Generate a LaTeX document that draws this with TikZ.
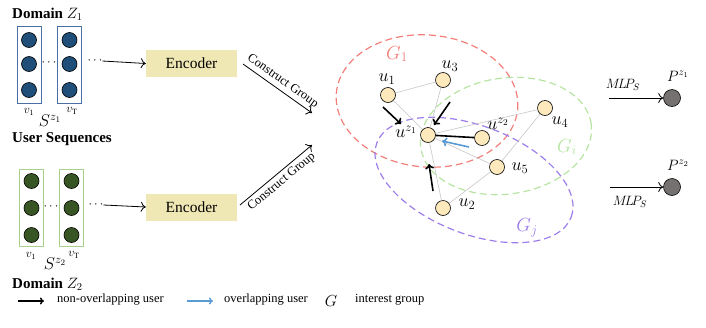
\RequirePackage{fix-cm}
\documentclass[tikz,border=0pt]{standalone}
\usepackage{fontspec}
\setmainfont{Liberation Serif}
\usetikzlibrary{arrows.meta}
\definecolor{enccol}{HTML}{EFE7B4}
\definecolor{bluedot}{HTML}{1F4E79}
\definecolor{bluebox}{HTML}{4A6FA5}
\definecolor{greendot}{HTML}{375623}
\definecolor{greenbox}{HTML}{A9D18E}
\definecolor{nodecol}{HTML}{FDE9BC}
\definecolor{redg}{HTML}{F27F7A}
\definecolor{greeng}{HTML}{B6E4A2}
\definecolor{purpleg}{HTML}{9C7DEB}
\definecolor{bluearr}{HTML}{5B9BD5}
\definecolor{pgray}{HTML}{767171}
\begin{document}
\begin{tikzpicture}[x=1pt,y=-1pt,
 seqbox/.style={draw=#1, line width=0.8pt, minimum width=24pt, minimum height=77pt, inner sep=0pt},
 seqdot/.style={circle, draw=black, line width=0.6pt, fill=#1, minimum size=15pt, inner sep=0pt},
 enc/.style={fill=enccol, minimum width=91pt, minimum height=27pt, inner sep=0pt, font=\fontsize{15.5}{18}\selectfont},
 arr/.style={-{To[length=5pt,width=10pt]}, line width=0.8pt},
 gnode/.style={circle, draw=black, line width=0.6pt, fill=nodecol, minimum size=15pt, inner sep=0pt},
 gedge/.style={draw=black!22, line width=0.6pt},
 thickarr/.style={-{To[length=5pt,width=9pt]}, line width=1.6pt},
 grp/.style={dash pattern=on 7pt off 4pt, line width=1.2pt},
 lbl/.style={font=\fontsize{12.5}{15}\selectfont, inner sep=0pt},
 mlbl/.style={font=\fontsize{18}{20}\selectfont, inner sep=0pt},
 glbl/.style={font=\fontsize{19}{21}\selectfont, inner sep=0pt},
 head/.style={font=\bfseries\fontsize{15}{18}\selectfont, inner sep=0pt, anchor=west},
 cg/.style={font=\fontsize{12.5}{14}\selectfont, inner sep=3pt}
]
\useasboundingbox (0,0) rectangle (706,327);

% ---------- domain Z1 ----------
\node[head] (d1) at (12,14) {Domain $Z_1$};
\node[seqbox=bluebox] (bb1) at (29,65) {};
\node[seqbox=bluebox] (bb2) at (69.5,65) {};
\foreach \y [count=\i] in {40,64,90}{
  \node[seqdot=bluedot] (ba\i) at (29,\y) {};
  \node[seqdot=bluedot] (bt\i) at (69.5,\y) {};
}
\node[lbl] (bdots1) at (49,63) {$\cdots$};
\node[lbl] (bdots2) at (95,61) {$\cdots$};
\node[enc] (enc1) at (191.5,63.5) {Encoder};
\draw[arr] (bdots2.east) -- (enc1.west);
\node[font=\fontsize{12}{13}\selectfont] (bv1) at (29,112) {$v_1$};
\node[font=\fontsize{17}{19}\selectfont] (bs) at (50,121) {$S^{z_1}$};
\node[font=\fontsize{12}{13}\selectfont] (bvt) at (72,111) {$v_{\mathrm{T}}$};

% ---------- user sequences ----------
\node[head] (us) at (12,139) {User Sequences};

% ---------- domain Z2 ----------
\node[seqbox=greenbox] (gb1) at (31.5,208) {};
\node[seqbox=greenbox] (gb2) at (71.5,208) {};
\foreach \y [count=\i] in {181,208,235}{
  \node[seqdot=greendot] (ga\i) at (31.5,\y) {};
  \node[seqdot=greendot] (gt\i) at (71.5,\y) {};
}
\node[lbl] (gdots1) at (51,207) {$\cdots$};
\node[lbl] (gdots2) at (96,205) {$\cdots$};
\node[enc] (enc2) at (191.5,207) {Encoder};
\draw[arr] (gdots2.east) -- (enc2.west);
\node[font=\fontsize{12}{13}\selectfont] (gv1) at (31,256) {$v_1$};
\node[font=\fontsize{17}{19}\selectfont] (gs) at (55,264) {$S^{z_2}$};
\node[font=\fontsize{12}{13}\selectfont] (gvt) at (74,255) {$v_{\mathrm{T}}$};
\node[head] (d2) at (12,284) {Domain $Z_2$};

% ---------- construct group ----------
\coordinate (c1s) at (243,64);
\coordinate (c1e) at (312,113);
\coordinate (c2s) at (240,205);
\coordinate (c2e) at (312,145);
\draw[arr] (c1s) -- node[cg, midway, above, sloped] {Construct Group} (c1e);
\draw[arr] (c2s) -- node[cg, midway, below, sloped] {Construct Group} (c2e);

% ---------- groups ----------
\draw[grp, draw=redg, rotate around={-5:(427,101)}] (427,101) ellipse [x radius=91pt, y radius=66pt];
\draw[grp, draw=greeng, rotate around={8:(506,136)}] (506,136) ellipse [x radius=86pt, y radius=58pt];
\draw[grp, draw=purpleg, rotate around={-21:(474,180)}] (474,180) ellipse [x radius=104pt, y radius=54pt];
\node[glbl, text=redg] (g1) at (397,54) {$G_1$};
\node[glbl, text=greeng] (gi) at (567,147) {$G_i$};
\node[glbl, text=purpleg] (gj) at (527,228) {$G_j$};

% ---------- graph nodes ----------
\node[gnode] (u1) at (388,95) {};
\node[gnode] (u3) at (443,80) {};
\node[gnode] (u4) at (545,108) {};
\node[gnode] (uz1) at (428,135) {};
\node[gnode] (uz2) at (482,138) {};
\node[gnode] (u5) at (497,167) {};
\node[gnode] (u2) at (443,208) {};

\draw[gedge] (u1) -- (u3);
\draw[gedge] (u1) -- (uz1);
\draw[gedge] (u3) -- (uz1);
\draw[gedge] (uz1) -- (u4);
\draw[gedge] (uz1) -- (u2);
\draw[gedge] (uz1) -- (u5);
\draw[gedge] (u2) -- (u5);
\draw[gedge] (u5) -- (u4);
\draw[line width=1.6pt] (uz2) -- (uz1);

\node[mlbl] (lu1) at (387,79) {$u_1$};
\node[mlbl] (lu3) at (450,66) {$u_3$};
\node[mlbl] (lu4) at (560,122) {$u_4$};
\node[mlbl] (luz1) at (406,132) {$u^{z_1}$};
\node[mlbl] (luz2) at (498,124) {$u^{z_2}$};
\node[mlbl] (lu5) at (520,168) {$u_5$};
\node[mlbl] (lu2) at (467,204) {$u_2$};

\coordinate (a1s) at (383,107); \coordinate (a1e) at (401,124);
\coordinate (a2s) at (450,102); \coordinate (a2e) at (434,125);
\coordinate (a3s) at (433,191); \coordinate (a3e) at (429,164);
\coordinate (a4s) at (469,147); \coordinate (a4e) at (442,141);
\draw[thickarr] (a1s) -- (a1e);
\draw[thickarr] (a2s) -- (a2e);
\draw[thickarr] (a3s) -- (a3e);
\draw[thickarr, draw=bluearr] (a4s) -- (a4e);

% ---------- outputs ----------
\node[circle, draw=black, line width=0.6pt, fill=pgray, minimum size=17pt, inner sep=0pt] (p1) at (672,98) {};
\node[circle, draw=black, line width=0.6pt, fill=pgray, minimum size=17pt, inner sep=0pt] (p2) at (672,187) {};
\coordinate (m1s) at (609,98);
\coordinate (m2s) at (610,187);
\draw[arr] (m1s) -- (p1);
\draw[arr] (m2s) -- (p2);
\node[font=\fontsize{13.5}{15}\selectfont, inner sep=0pt] (mlp1) at (623,85) {$M\!L\!P_S$};
\node[font=\fontsize{13.5}{15}\selectfont, inner sep=0pt] (mlp2) at (630,202) {$M\!L\!P_S$};
\node[font=\fontsize{15}{16}\selectfont, inner sep=0pt] (pl1) at (678,76) {$P^{z_1}$};
\node[font=\fontsize{15}{16}\selectfont, inner sep=0pt] (pl2) at (678,165) {$P^{z_2}$};

% ---------- legend ----------
\coordinate (l1s) at (18,301); \coordinate (l1e) at (44,301);
\coordinate (l2s) at (187,301); \coordinate (l2e) at (213,301);
\draw[-{To[length=4pt,width=7pt]}, line width=1.4pt] (l1s) -- (l1e);
\draw[-{To[length=4pt,width=7pt]}, line width=1.4pt, draw=bluearr] (l2s) -- (l2e);
\node[lbl, anchor=west] (t1) at (57,300) {non-overlapping user};
\node[lbl, anchor=west] (t2) at (224,300) {overlapping user};
\node[font=\fontsize{16}{17}\selectfont, inner sep=0pt] (tg) at (331,301) {$G$};
\node[lbl, anchor=west] (t3) at (355,300) {interest group};
\end{tikzpicture}
\end{document}
